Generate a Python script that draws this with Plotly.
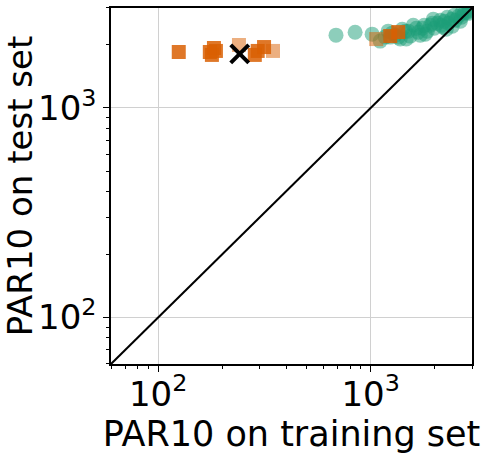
import plotly.graph_objects as go

# green circles (training vs test PAR10)
green_train = [687, 845, 1016, 1171, 1262, 1377, 1455, 1536, 1587, 1675, 1750, 1848, 1909, 1993,
               2060, 2150, 2222, 2321, 2398, 2504, 2586, 2673, 2761, 2852, 2915, 1305, 1712, 2270,
               1471, 1109, 1209, 1408, 1971, 2424, 2644, 1807,
               1236, 1348, 1503, 1639, 1788, 1950, 2127, 2295, 2477, 2701, 2884, 2198]
green_test = [2226, 2299, 2250, 2178, 2275, 2132, 2325, 2202, 2482, 2299, 2402, 2325, 2482, 2402,
              2537, 2482, 2593, 2537, 2650, 2621, 2738, 2708, 2829, 2860, 2923, 2226, 2226, 2376,
              2132, 2085, 2325, 2376, 2650, 2455, 2593, 2250,
              2178, 2178, 2325, 2402, 2482, 2537, 2621, 2708, 2768, 2860, 2829, 2429]

# orange squares (strong)
orange_train = [125, 179, 187, 183, 175, 294, 315, 285, 1236, 1349]
orange_test = [1849, 1791, 1871, 1932, 1849, 1871, 1953, 1791, 2203, 2302]

# orange squares (faint)
faint_train = [240, 347, 1062]
faint_test = [1997, 1871, 2132]

# selected configuration
sel_train = [242]
sel_test = [1811]

diag = [60, 3000]
major_ticks = [100, 1000]
major_labels = ["10<sup>2</sup>", "10<sup>3</sup>"]
minor_ticks = [60, 70, 80, 90, 200, 300, 400, 500, 600, 700, 800, 900, 2000, 3000]

GREEN = "rgba(27,158,119,0.5)"
ORANGE = "rgba(217,95,2,0.85)"
FAINT = "rgba(217,95,2,0.5)"

fig = go.Figure()
fig.add_trace(go.Scatter(x=green_train, y=green_test, mode="markers",
                         marker=dict(symbol="circle", size=15, color=GREEN, line=dict(width=0))))
fig.add_trace(go.Scatter(x=faint_train, y=faint_test, mode="markers",
                         marker=dict(symbol="square", size=14, color=FAINT, line=dict(width=0))))
fig.add_trace(go.Scatter(x=orange_train, y=orange_test, mode="markers",
                         marker=dict(symbol="square", size=14, color=ORANGE, line=dict(width=0))))
fig.add_trace(go.Scatter(x=sel_train, y=sel_test, mode="markers",
                         marker=dict(symbol="x-thin", size=18, color="black",
                                     line=dict(width=4, color="black"))))
fig.add_trace(go.Scatter(x=diag, y=diag, mode="lines", line=dict(color="black", width=2)))

axis_common = dict(
    type="log", range=[1.778, 3.477],
    tickmode="array", tickvals=major_ticks, ticktext=major_labels,
    ticks="outside", ticklen=6, tickwidth=1, tickcolor="black",
    showline=True, linecolor="black", linewidth=1.5, mirror=True,
    showgrid=True, gridcolor="#d0d0d0", gridwidth=1,
    zeroline=False,
    minor=dict(tickmode="array", tickvals=minor_ticks, ticks="outside", ticklen=3,
               tickcolor="black", tickwidth=1, showgrid=False),
    tickfont=dict(family="DejaVu Sans", size=34, color="black"),
)

fig.update_layout(
    width=482, height=454,
    margin=dict(l=111, r=10, t=6, b=87),
    paper_bgcolor="white", plot_bgcolor="white",
    showlegend=False,
    font=dict(family="DejaVu Sans", color="black"),
    xaxis=dict(axis_common, ticklabelstandoff=-7,
               title=dict(text="PAR10 on training set",
                          font=dict(family="DejaVu Sans", size=35), standoff=10)),
    yaxis=dict(axis_common, title=dict(text="PAR10 on test set",
                                       font=dict(family="DejaVu Sans", size=34), standoff=6)),
)

fig.write_html("out.html")
